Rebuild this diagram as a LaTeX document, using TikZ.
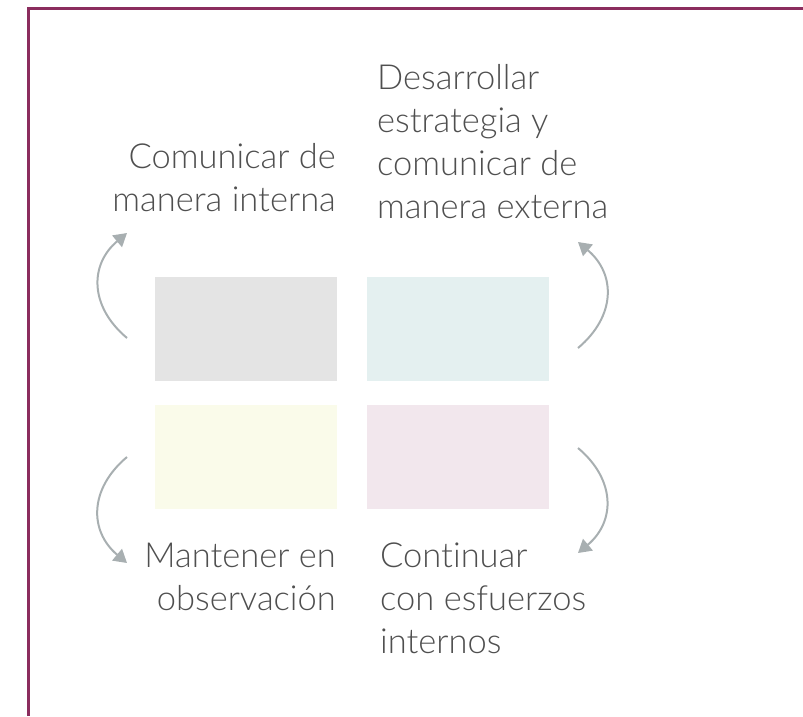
\documentclass[tikz,border=0pt]{standalone}
\usepackage{fontspec}
\setmainfont{Lato}[UprightFont={* Light}, Ligatures=NoCommon]
\usetikzlibrary{arrows.meta}
\definecolor{framecol}{HTML}{8B2D5E}
\definecolor{arrowgray}{HTML}{A8AFB1}
\definecolor{textgray}{HTML}{4F4F4F}
\definecolor{cellgray}{HTML}{E4E4E4}
\definecolor{cellteal}{HTML}{E4F0F0}
\definecolor{cellyellow}{HTML}{FAFBEA}
\definecolor{cellpink}{HTML}{F2E7ED}
\tikzstyle{arrow} = [-{Triangle[width=15pt,length=13pt]}, line width=2pt, draw=arrowgray, looseness=1.2]
\tikzstyle{cell} = [minimum width=182pt, minimum height=104pt, inner sep=0pt]
\tikzstyle{quadtext} = [font=\fontsize{34.5}{43}\selectfont, text=textgray, inner sep=0pt]

\begin{document}
\begin{tikzpicture}[x=1pt, y=1pt]
        \useasboundingbox (0,0) rectangle (803,-716);
        \draw[framecol, line width=3pt] (28.5,-716) -- (28.5,-8.5) -- (803,-8.5);

        \node[cell, fill=cellgray] at (246,-329) (intern) {};
        \node[cell, fill=cellteal] at (458,-329) (extern) {};
        \node[cell, fill=cellyellow] at (246,-457) (observe) {};
        \node[cell, fill=cellpink] at (458,-457) (continue) {};

        \node[quadtext, anchor=north east, align=right] at (336,-143) (tintern) {Comunicar de\\manera interna};
        \node[quadtext, anchor=north west, align=left] at (377,-64) (textern) {Desarrollar\\estrategia y\\comunicar de\\manera externa};
        \node[quadtext, anchor=north east, align=right] at (336,-543) (tobserve) {Mantener en\\observación};
        \node[quadtext, anchor=north west, align=left] at (380,-543) (tcontinue) {Continuar\\con esfuerzos\\internos};

        \coordinate (is) at (127,-338);
        \coordinate (ie) at (127,-233);
        \coordinate (es) at (578,-348);
        \coordinate (ee) at (578,-242);
        \coordinate (os) at (127,-457);
        \coordinate (oe) at (127,-563);
        \coordinate (cs) at (578,-448);
        \coordinate (ce) at (578,-553);

        \draw[arrow] (is) to [out=140, in=220] (ie);
        \draw[arrow] (es) to [out=40, in=-40] (ee);
        \draw[arrow] (os) to [out=220, in=140] (oe);
        \draw[arrow] (cs) to [out=-40, in=40] (ce);

    \end{tikzpicture}
\end{document}
